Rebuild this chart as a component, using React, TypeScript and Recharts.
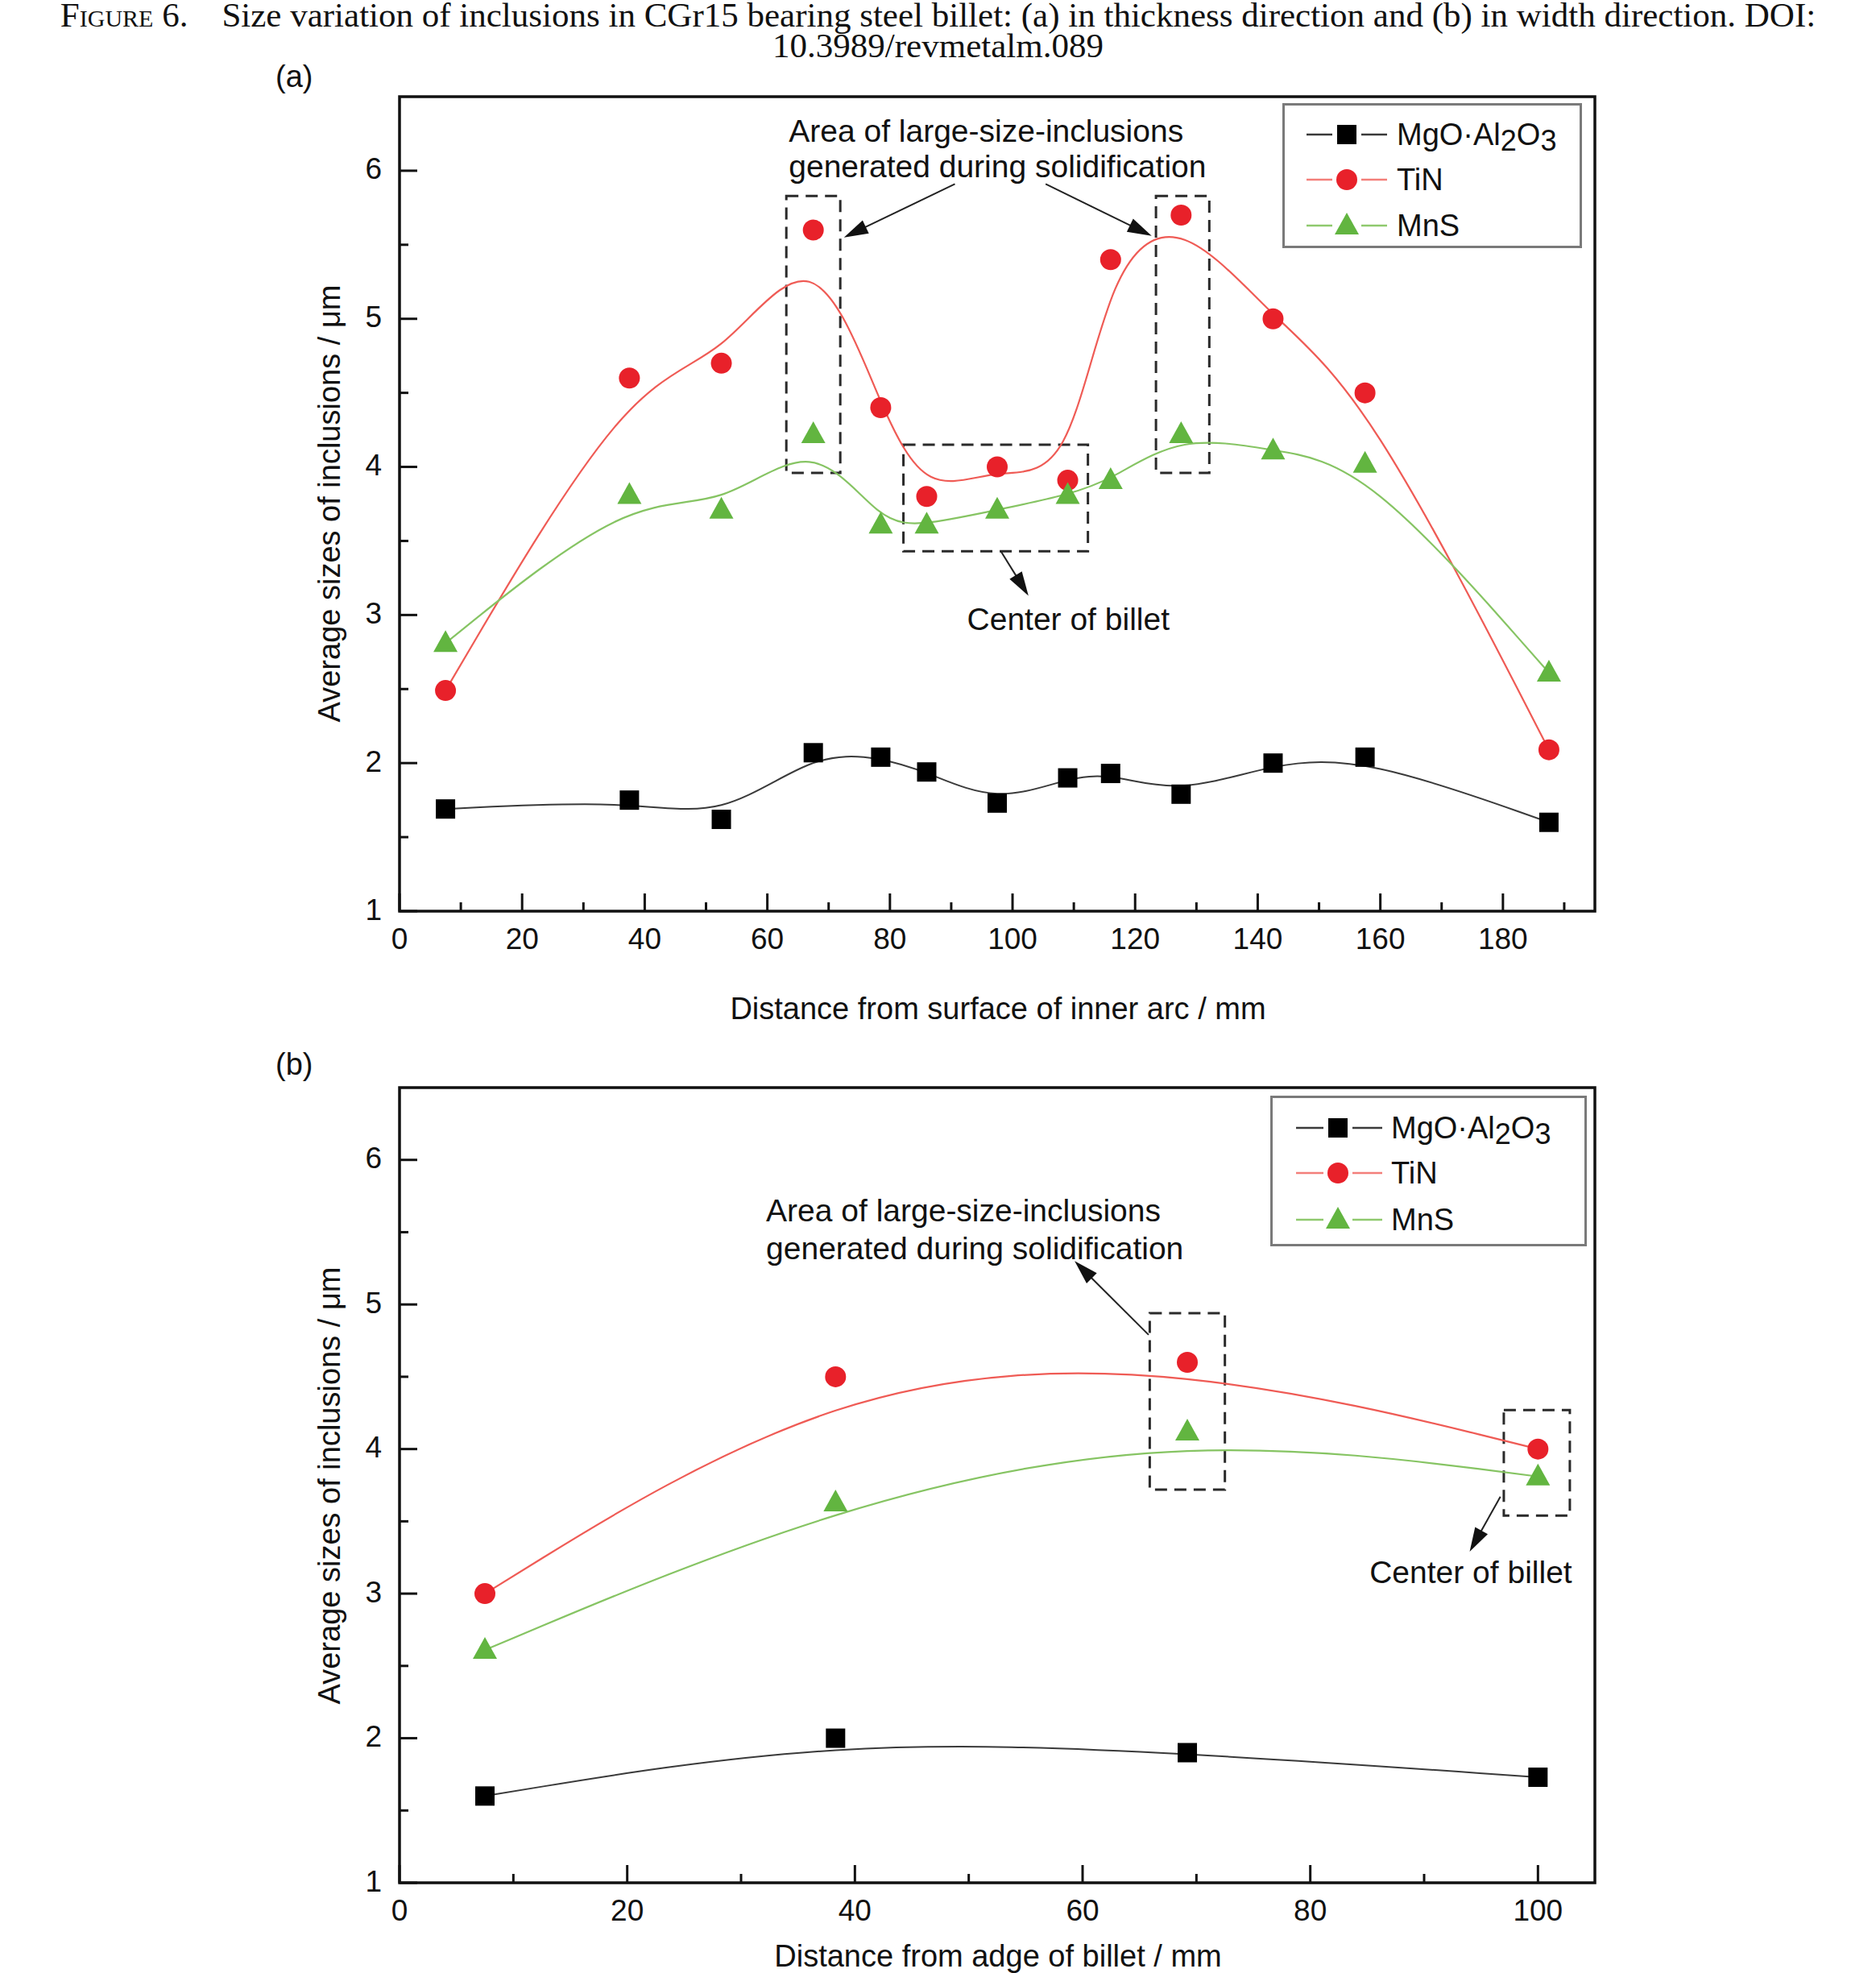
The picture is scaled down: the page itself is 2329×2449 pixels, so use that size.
import React from 'react';
import { LineChart, Line, XAxis, YAxis, ReferenceArea, ReferenceLine, ReferenceDot } from 'recharts';

// ---------- data: (a) thickness direction ----------
const thickX = [7.5, 37.5, 52.5, 67.5, 78.5, 86, 97.5, 109, 116, 127.5, 142.5, 157.5, 187.5];
const thickMgO = [1.69, 1.75, 1.62, 2.07, 2.04, 1.94, 1.73, 1.9, 1.93, 1.79, 2.0, 2.04, 1.6];
const thickTiN = [2.49, 4.6, 4.7, 5.6, 4.4, 3.8, 4.0, 3.91, 5.4, 5.7, 5.0, 4.5, 2.09];
const thickMnS = [2.81, 3.81, 3.71, 4.22, 3.61, 3.61, 3.71, 3.81, 3.91, 4.22, 4.11, 4.02, 2.61];

// ---------- data: (b) width direction ----------
const widthX = [7.5, 38.3, 69.2, 100];
const widthMgO = [1.6, 2.0, 1.9, 1.73];
const widthTiN = [3.0, 4.5, 4.6, 4.0];
const widthMnS = [2.61, 3.63, 4.12, 3.81];

// ---------- ticks ----------
const thickTicks = [0, 10, 20, 30, 40, 50, 60, 70, 80, 90, 100, 110, 120, 130, 140, 150, 160, 170, 180, 190];
const thickLabels = [0, 20, 40, 60, 80, 100, 120, 140, 160, 180];
const widthTicks = [0, 10, 20, 30, 40, 50, 60, 70, 80, 90, 100];
const widthLabels = [0, 20, 40, 60, 80, 100];
const yTicks = [1, 1.5, 2, 2.5, 3, 3.5, 4, 4.5, 5, 5.5, 6];
const yLabels = [1, 2, 3, 4, 5, 6];

const seriesNames = ['MgO·Al2O3', 'TiN', 'MnS'];

const thickData = thickX.map((x, i) => ({ x, mgo: thickMgO[i], tin: thickTiN[i], mns: thickMnS[i] }));
const widthData = widthX.map((x, i) => ({ x, mgo: widthMgO[i], tin: widthTiN[i], mns: widthMnS[i] }));

const FONT = '"Liberation Sans", Arial, Helvetica, sans-serif';
const SERIF = '"Liberation Serif", "Times New Roman", serif';
const INK = '#111';
const RED_LINE = '#ef5b55';
const RED_DOT = '#e8212a';
const GREEN_LINE = '#86c463';
const GREEN_DOT = '#62b540';
const BLACK_LINE = '#3a3a3a';

function makeXTick(labels: number[]) {
  return (props: any) => {
    const { x, y, payload, index } = props;
    const v = payload.value;
    const major = labels.includes(v);
    return (
      <g key={`xt-${index}`}>
        <line x1={x} x2={x} y1={y} y2={y - (major ? 22 : 11)} stroke={INK} strokeWidth={3} />
        {major && (
          <text x={x} y={y + 34} textAnchor="middle" dominantBaseline="central" fontFamily={FONT} fontSize={37} fill={INK}>
            {v}
          </text>
        )}
      </g>
    );
  };
}

function makeYTick(labels: number[]) {
  return (props: any) => {
    const { x, y, payload, index } = props;
    const v = payload.value;
    const major = labels.includes(v);
    return (
      <g key={`yt-${index}`}>
        <line x1={x} x2={x + (major ? 22 : 11)} y1={y} y2={y} stroke={INK} strokeWidth={3} />
        {major && (
          <text x={x - 22} y={y - 2} textAnchor="end" dominantBaseline="central" fontFamily={FONT} fontSize={37} fill={INK}>
            {v}
          </text>
        )}
      </g>
    );
  };
}

const squareDot = (p: any) => (
  <rect key={`sq-${p.index}`} x={p.cx - 12} y={p.cy - 12} width={24} height={24} fill="#000" />
);
const circleDot = (p: any) => <circle key={`ci-${p.index}`} cx={p.cx} cy={p.cy} r={13} fill={RED_DOT} />;
const triDot = (p: any) => (
  <polygon
    key={`tr-${p.index}`}
    points={`${p.cx},${p.cy - 16} ${p.cx + 15},${p.cy + 11} ${p.cx - 15},${p.cy + 11}`}
    fill={GREEN_DOT}
  />
);

const arrowShape = (props: any) => {
  const { x1, y1, x2, y2 } = props;
  const dx = x2 - x1;
  const dy = y2 - y1;
  const len = Math.hypot(dx, dy) || 1;
  const ux = dx / len;
  const uy = dy / len;
  const hl = 30;
  const hw = 9;
  const bx = x2 - ux * hl;
  const by = y2 - uy * hl;
  return (
    <g>
      <line x1={x1} y1={y1} x2={bx + ux * 4} y2={by + uy * 4} stroke="#222" strokeWidth={2} />
      <polygon points={`${x2},${y2} ${bx - uy * hw},${by + ux * hw} ${bx + uy * hw},${by - ux * hw}`} fill={INK} />
    </g>
  );
};

const textShape = (label: string, anchor: 'start' | 'middle') => (p: any) => (
  <text x={p.cx} y={p.cy} textAnchor={anchor} dominantBaseline="central" fontFamily={FONT} fontSize={39} fill={INK}>
    {label}
  </text>
);

const dashedBox = (key: string, x1: number, x2: number, y1: number, y2: number) => (
  <ReferenceArea
    key={key}
    x1={x1}
    x2={x2}
    y1={y1}
    y2={y2}
    fill="none"
    fillOpacity={0}
    stroke="#2a2a2a"
    strokeWidth={3}
    strokeDasharray="15 9"
    ifOverflow="visible"
  />
);

function LegendBox(props: {
  left: number;
  top: number;
  width: number;
  height: number;
  rows: number[];
  lx1: number;
  lx2: number;
  mx: number;
  tx: number;
}) {
  const { left, top, width, height, rows, lx1, lx2, mx, tx } = props;
  const lines = [BLACK_LINE, '#f37f7a', '#8fc96e'];
  const marks = [
    (y: number) => <rect x={mx - 12} y={y - 12} width={24} height={24} fill="#000" />,
    (y: number) => <circle cx={mx} cy={y} r={13} fill={RED_DOT} />,
    (y: number) => <polygon points={`${mx},${y - 16} ${mx + 15},${y + 11} ${mx - 15},${y + 11}`} fill={GREEN_DOT} />,
  ];
  return (
    <svg style={{ position: 'absolute', left, top }} width={width} height={height}>
      <rect x={1.5} y={1.5} width={width - 3} height={height - 3} fill="#fff" stroke="#7a7a7a" strokeWidth={3} />
      {rows.map((y, i) => (
        <g key={i}>
          <line x1={lx1} x2={mx - 18} y1={y} y2={y} stroke={lines[i]} strokeWidth={2.5} />
          <line x1={mx + 18} x2={lx2} y1={y} y2={y} stroke={lines[i]} strokeWidth={2.5} />
          {marks[i](y)}
          {i === 0 ? (
            <text x={tx} y={y} dominantBaseline="central" fontFamily={FONT} fontSize={38} fill={INK}>
              MgO·Al<tspan dy={7} fontSize={36}>2</tspan>
              <tspan dy={-7}>O</tspan>
              <tspan dy={7} fontSize={36}>3</tspan>
            </text>
          ) : (
            <text x={tx} y={y} dominantBaseline="central" fontFamily={FONT} fontSize={38} fill={INK}>
              {seriesNames[i]}
            </text>
          )}
        </g>
      ))}
    </svg>
  );
}

const absText = (
  text: string,
  left: number,
  top: number,
  extra: React.CSSProperties = {}
): React.ReactElement => (
  <div
    style={{
      position: 'absolute',
      left,
      top,
      fontFamily: FONT,
      fontSize: 38,
      lineHeight: '38px',
      color: INK,
      whiteSpace: 'nowrap',
      ...extra,
    }}
  >
    {text}
  </div>
);

export default function App() {
  return (
    <div
      style={{
        position: 'absolute',
        left: 0,
        top: 0,
        width: 2329,
        height: 2449,
        background: '#fff',
        overflow: 'hidden',
      }}
    >
      {/* Title */}
      <div
        style={{
          position: 'absolute',
          left: 0,
          top: 0,
          width: 2329,
          textAlign: 'center',
          fontFamily: SERIF,
          fontSize: 43,
          lineHeight: '38px',
          color: INK,
        }}
      >
        <div>
          <span style={{ fontVariant: 'small-caps', marginRight: 42 }}>Figure 6.</span>
          Size variation of inclusions in CGr15 bearing steel billet: (a) in thickness direction and (b) in width
          direction. DOI:
        </div>
        <div>10.3989/revmetalm.089</div>
      </div>

      {/* Panel labels */}
      {absText('(a)', 342, 76)}
      {absText('(b)', 342, 1302)}

      {/* ---------- Panel (a) ---------- */}
      <div style={{ position: 'absolute', left: 0, top: 0 }}>
        <LineChart width={2329} height={1300} data={thickData} margin={{ top: 120, right: 349, bottom: 69, left: 396 }}>
          <XAxis
            type="number"
            dataKey="x"
            domain={[0, 195]}
            ticks={thickTicks}
            interval={0}
            tickSize={0}
            tickMargin={0}
            axisLine={false}
            tickLine={false}
            tick={makeXTick(thickLabels)}
            height={100}
            allowDataOverflow
          />
          <YAxis
            type="number"
            domain={[1, 6.5]}
            ticks={yTicks}
            interval={0}
            tickSize={0}
            tickMargin={0}
            axisLine={false}
            tickLine={false}
            tick={makeYTick(yLabels)}
            width={100}
            allowDataOverflow
          />
          <ReferenceArea x1={0} x2={195} y1={1} y2={6.5} fill="none" fillOpacity={0} stroke={INK} strokeWidth={3.5} ifOverflow="visible" />
          {dashedBox('a1', 63.1, 71.9, 3.96, 5.83)}
          {dashedBox('a2', 123.4, 132.1, 3.96, 5.83)}
          {dashedBox('a3', 82.2, 112.3, 3.43, 4.15)}
          <Line dataKey="mgo" type="basis" stroke={BLACK_LINE} strokeWidth={2} dot={squareDot} activeDot={false} isAnimationActive={false} />
          <Line dataKey="tin" type="basis" stroke={RED_LINE} strokeWidth={2.2} dot={circleDot} activeDot={false} isAnimationActive={false} />
          <Line dataKey="mns" type="basis" stroke={GREEN_LINE} strokeWidth={2.2} dot={triDot} activeDot={false} isAnimationActive={false} />
          <ReferenceLine segment={[{ x: 90.6, y: 5.91 }, { x: 72.5, y: 5.55 }]} shape={arrowShape} ifOverflow="visible" />
          <ReferenceLine segment={[{ x: 105.4, y: 5.91 }, { x: 122.7, y: 5.56 }]} shape={arrowShape} ifOverflow="visible" />
          <ReferenceLine segment={[{ x: 98.1, y: 3.43 }, { x: 102.6, y: 3.13 }]} shape={arrowShape} ifOverflow="visible" />
          <ReferenceDot x={63.5} y={6.27} r={0} shape={textShape('Area of large-size-inclusions', 'start')} ifOverflow="visible" />
          <ReferenceDot x={63.5} y={6.03} r={0} shape={textShape('generated during solidification', 'start')} ifOverflow="visible" />
          <ReferenceDot x={109.1} y={2.97} r={0} shape={textShape('Center of billet', 'middle')} ifOverflow="visible" />
        </LineChart>
      </div>

      <LegendBox left={1592} top={128} width={372} height={180} rows={[39, 95, 152]} lx1={30} lx2={130} mx={80} tx={142} />

      {/* axis titles (a) */}
      <div
        style={{
          position: 'absolute',
          left: 409 - 400,
          top: 625 - 20,
          width: 800,
          height: 40,
          textAlign: 'center',
          fontFamily: FONT,
          fontSize: 38,
          lineHeight: '40px',
          color: INK,
          transform: 'rotate(-90deg)',
          transformOrigin: '400px 20px',
          whiteSpace: 'nowrap',
        }}
      >
        Average sizes of inclusions / μm
      </div>
      <div
        style={{
          position: 'absolute',
          left: 1239 - 500,
          top: 1252 - 20,
          width: 1000,
          textAlign: 'center',
          fontFamily: FONT,
          fontSize: 38,
          lineHeight: '40px',
          color: INK,
          whiteSpace: 'nowrap',
        }}
      >
        Distance from surface of inner arc / mm
      </div>

      {/* ---------- Panel (b) ---------- */}
      <div style={{ position: 'absolute', left: 0, top: 1230 }}>
        <LineChart width={2329} height={1219} data={widthData} margin={{ top: 120, right: 349, bottom: 12, left: 396 }}>
          <XAxis
            type="number"
            dataKey="x"
            domain={[0, 105]}
            ticks={widthTicks}
            interval={0}
            tickSize={0}
            tickMargin={0}
            axisLine={false}
            tickLine={false}
            tick={makeXTick(widthLabels)}
            height={100}
            allowDataOverflow
          />
          <YAxis
            type="number"
            domain={[1, 6.5]}
            ticks={yTicks}
            interval={0}
            tickSize={0}
            tickMargin={0}
            axisLine={false}
            tickLine={false}
            tick={makeYTick(yLabels)}
            width={100}
            allowDataOverflow
          />
          <ReferenceArea x1={0} x2={105} y1={1} y2={6.5} fill="none" fillOpacity={0} stroke={INK} strokeWidth={3.5} ifOverflow="visible" />
          {dashedBox('b1', 65.9, 72.5, 3.72, 4.94)}
          {dashedBox('b2', 97.0, 102.8, 3.54, 4.27)}
          <Line dataKey="mgo" type="basis" stroke={BLACK_LINE} strokeWidth={2} dot={squareDot} activeDot={false} isAnimationActive={false} />
          <Line dataKey="tin" type="basis" stroke={RED_LINE} strokeWidth={2.2} dot={circleDot} activeDot={false} isAnimationActive={false} />
          <Line dataKey="mns" type="basis" stroke={GREEN_LINE} strokeWidth={2.2} dot={triDot} activeDot={false} isAnimationActive={false} />
          <ReferenceLine segment={[{ x: 65.8, y: 4.79 }, { x: 59.3, y: 5.3 }]} shape={arrowShape} ifOverflow="visible" />
          <ReferenceLine segment={[{ x: 96.7, y: 3.67 }, { x: 94.0, y: 3.29 }]} shape={arrowShape} ifOverflow="visible" />
          <ReferenceDot x={32.2} y={5.65} r={0} shape={textShape('Area of large-size-inclusions', 'start')} ifOverflow="visible" />
          <ReferenceDot x={32.2} y={5.39} r={0} shape={textShape('generated during solidification', 'start')} ifOverflow="visible" />
          <ReferenceDot x={94.1} y={3.15} r={0} shape={textShape('Center of billet', 'middle')} ifOverflow="visible" />
        </LineChart>
      </div>

      <LegendBox left={1577} top={1360} width={393} height={187} rows={[40, 96, 154]} lx1={32} lx2={139} mx={84} tx={150} />

      {/* axis titles (b) */}
      <div
        style={{
          position: 'absolute',
          left: 409 - 400,
          top: 1844 - 20,
          width: 800,
          height: 40,
          textAlign: 'center',
          fontFamily: FONT,
          fontSize: 38,
          lineHeight: '40px',
          color: INK,
          transform: 'rotate(-90deg)',
          transformOrigin: '400px 20px',
          whiteSpace: 'nowrap',
        }}
      >
        Average sizes of inclusions / μm
      </div>
      <div
        style={{
          position: 'absolute',
          left: 1239 - 500,
          top: 2428 - 20,
          width: 1000,
          textAlign: 'center',
          fontFamily: FONT,
          fontSize: 38,
          lineHeight: '40px',
          color: INK,
          whiteSpace: 'nowrap',
        }}
      >
        Distance from adge of billet / mm
      </div>
    </div>
  );
}
